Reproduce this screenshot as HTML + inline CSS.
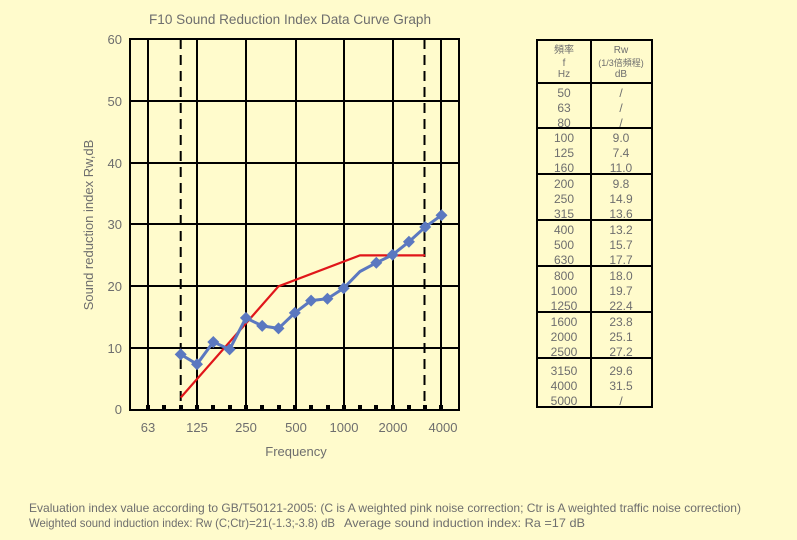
<!DOCTYPE html>
<html><head><meta charset="utf-8"><style>
html,body{margin:0;padding:0;background:#fffbcc;}
svg{display:block;}
text{font-family:"Liberation Sans","Noto Sans CJK SC",sans-serif;fill:#6e6e6e;}
</style></head><body>
<svg width="797" height="540" viewBox="0 0 797 540" xmlns="http://www.w3.org/2000/svg">
<rect width="797" height="540" fill="#fffbcc"/>
<text x="290" y="24" font-size="14" text-anchor="middle" textLength="282" lengthAdjust="spacingAndGlyphs">F10 Sound Reduction Index Data Curve Graph</text>
<g stroke="#000" stroke-width="2">
<line x1="130" y1="101" x2="459" y2="101"/>
<line x1="130" y1="163" x2="459" y2="163"/>
<line x1="130" y1="224" x2="459" y2="224"/>
<line x1="130" y1="286" x2="459" y2="286"/>
<line x1="130" y1="348" x2="459" y2="348"/>
<line x1="148" y1="39" x2="148" y2="410"/>
<line x1="197" y1="39" x2="197" y2="410"/>
<line x1="246" y1="39" x2="246" y2="410"/>
<line x1="296" y1="39" x2="296" y2="410"/>
<line x1="344" y1="39" x2="344" y2="410"/>
<line x1="393" y1="39" x2="393" y2="410"/>
<line x1="441" y1="39" x2="441" y2="410"/>
<line x1="180.7" y1="39" x2="180.7" y2="410" stroke-dasharray="10,6"/>
<line x1="424.5" y1="39" x2="424.5" y2="410" stroke-dasharray="10,6"/>
<rect x="130" y="39" width="329" height="371" fill="none"/>
</g>
<g fill="#000">
<rect x="146" y="405" width="4" height="5"/><rect x="162" y="405" width="4" height="5"/><rect x="179" y="405" width="4" height="5"/><rect x="195" y="405" width="4" height="5"/><rect x="211" y="405" width="4" height="5"/><rect x="228" y="405" width="4" height="5"/><rect x="244" y="405" width="4" height="5"/><rect x="260" y="405" width="4" height="5"/><rect x="277" y="405" width="4" height="5"/><rect x="293" y="405" width="4" height="5"/><rect x="309" y="405" width="4" height="5"/><rect x="326" y="405" width="4" height="5"/><rect x="342" y="405" width="4" height="5"/><rect x="358" y="405" width="4" height="5"/><rect x="374" y="405" width="4" height="5"/><rect x="391" y="405" width="4" height="5"/><rect x="407" y="405" width="4" height="5"/><rect x="423" y="405" width="4" height="5"/><rect x="439" y="405" width="4" height="5"/>
</g>
<polyline points="180.7,397.6 278.5,286.3 360,255.4 425,255.4" fill="none" stroke="#e0161a" stroke-width="2.2"/>
<polyline points="180.7,354.4 197,364.2 213.3,342 229.6,349.4 245.9,317.9 262.2,325.9 278.5,328.4 294.8,312.9 311.1,300.6 327.4,298.7 343.7,288.2 360,271.5 376.3,262.8 392.6,254.8 408.9,241.8 425.2,227 441.5,215.2" fill="none" stroke="#5b78c0" stroke-width="3"/>
<g fill="#5b78c0">
<path d="M180.7,348.4l6,6l-6,6l-6,-6z"/><path d="M197,358.2l6,6l-6,6l-6,-6z"/><path d="M213.3,336l6,6l-6,6l-6,-6z"/><path d="M229.6,343.4l6,6l-6,6l-6,-6z"/><path d="M245.9,311.9l6,6l-6,6l-6,-6z"/><path d="M262.2,319.9l6,6l-6,6l-6,-6z"/><path d="M278.5,322.4l6,6l-6,6l-6,-6z"/><path d="M294.8,306.9l6,6l-6,6l-6,-6z"/><path d="M311.1,294.6l6,6l-6,6l-6,-6z"/><path d="M327.4,292.7l6,6l-6,6l-6,-6z"/><path d="M343.7,282.2l6,6l-6,6l-6,-6z"/><path d="M376.3,256.8l6,6l-6,6l-6,-6z"/><path d="M392.6,248.8l6,6l-6,6l-6,-6z"/><path d="M408.9,235.8l6,6l-6,6l-6,-6z"/><path d="M425.2,221l6,6l-6,6l-6,-6z"/><path d="M441.5,209.2l6,6l-6,6l-6,-6z"/>
</g>
<g font-size="13" text-anchor="end">
<text x="122" y="44">60</text><text x="122" y="106">50</text><text x="122" y="168">40</text><text x="122" y="229">30</text><text x="122" y="291">20</text><text x="122" y="353">10</text><text x="122" y="414">0</text>
</g>
<g font-size="13" text-anchor="middle">
<text x="148" y="432">63</text><text x="197" y="432">125</text><text x="246" y="432">250</text><text x="296" y="432">500</text><text x="344" y="432">1000</text><text x="393" y="432">2000</text><text x="443" y="432">4000</text>
<text x="296" y="456">Frequency</text>
<text transform="translate(93,225) rotate(-90)">Sound reduction index Rw,dB</text>
</g>
<g stroke="#000" stroke-width="2" fill="none">
<rect x="537" y="40" width="115" height="367"/>
<line x1="591" y1="40" x2="591" y2="407"/>
<line x1="537" y1="83" x2="652" y2="83"/>
<line x1="537" y1="128" x2="652" y2="128"/>
<line x1="537" y1="174" x2="652" y2="174"/>
<line x1="537" y1="220" x2="652" y2="220"/>
<line x1="537" y1="266" x2="652" y2="266"/>
<line x1="537" y1="312" x2="652" y2="312"/>
<line x1="537" y1="358" x2="652" y2="358"/>
</g>
<g text-anchor="middle" font-size="10">
<text x="564" y="53">頻率</text><text x="564" y="66">f</text><text x="564" y="77">Hz</text>
<text x="621" y="53">Rw</text><text x="621" y="66" font-size="9">(1/3倍頻程)</text><text x="621" y="77">dB</text>
</g>
<g text-anchor="middle" font-size="12">
<text x="564" y="97">50</text><text x="564" y="112">63</text><text x="564" y="127">80</text>
<text x="564" y="142">100</text><text x="564" y="157">125</text><text x="564" y="172">160</text>
<text x="564" y="188">200</text><text x="564" y="203">250</text><text x="564" y="218">315</text>
<text x="564" y="234">400</text><text x="564" y="249">500</text><text x="564" y="264">630</text>
<text x="564" y="280">800</text><text x="564" y="295">1000</text><text x="564" y="310">1250</text>
<text x="564" y="326">1600</text><text x="564" y="341">2000</text><text x="564" y="356">2500</text>
<text x="564" y="375">3150</text><text x="564" y="390">4000</text><text x="564" y="405">5000</text>
<text x="621" y="97">/</text><text x="621" y="112">/</text><text x="621" y="127">/</text>
<text x="621" y="142">9.0</text><text x="621" y="157">7.4</text><text x="621" y="172">11.0</text>
<text x="621" y="188">9.8</text><text x="621" y="203">14.9</text><text x="621" y="218">13.6</text>
<text x="621" y="234">13.2</text><text x="621" y="249">15.7</text><text x="621" y="264">17.7</text>
<text x="621" y="280">18.0</text><text x="621" y="295">19.7</text><text x="621" y="310">22.4</text>
<text x="621" y="326">23.8</text><text x="621" y="341">25.1</text><text x="621" y="356">27.2</text>
<text x="621" y="375">29.6</text><text x="621" y="390">31.5</text><text x="621" y="405">/</text>
</g>
<text x="29" y="512" font-size="12" textLength="712" lengthAdjust="spacingAndGlyphs">Evaluation index value according to GB/T50121-2005: (C is A weighted pink noise correction; Ctr is A weighted traffic noise correction)</text>
<text x="29" y="527" font-size="12" textLength="306" lengthAdjust="spacingAndGlyphs">Weighted sound induction index: Rw (C;Ctr)=21(-1.3;-3.8) dB</text>
<text x="344" y="527" font-size="12" textLength="241" lengthAdjust="spacingAndGlyphs">Average sound induction index: Ra =17 dB</text>
</svg>
</body></html>
